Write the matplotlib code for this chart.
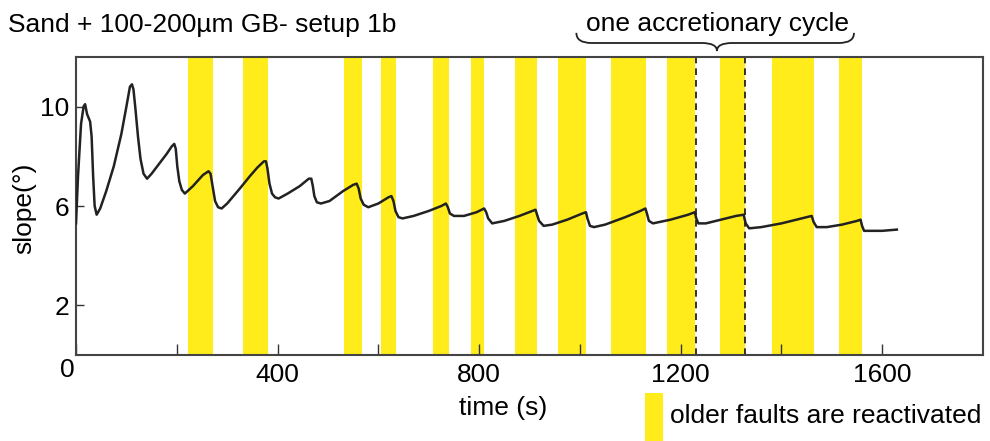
import numpy as np
import matplotlib.pyplot as plt
from matplotlib.path import Path
from matplotlib.patches import PathPatch, Rectangle
import matplotlib.transforms as mtransforms

plt.rcParams['font.family'] = ['Liberation Sans', 'DejaVu Sans']

# slope curve
time_s = [0, 4, 10, 15, 18, 22, 28, 31, 34, 37, 41, 48, 60, 75, 90, 100, 107, 111, 114,
          118, 123, 128, 134, 141, 150, 165, 180, 190, 195, 198, 201, 205, 210, 216, 232,
          252, 263, 267, 271, 276, 282, 289, 300, 325, 345, 360, 373, 377, 380, 384, 389,
          395, 402, 420, 444, 462, 467, 470, 473, 478, 486, 503, 530, 550, 557, 561, 565,
          571, 580, 600, 620, 626, 630, 634, 640, 648, 670, 700, 725, 734, 738, 742, 750,
          770, 795, 810, 814, 818, 826, 850, 880, 906, 912, 915, 919, 928, 945, 975, 1005,
          1012, 1015, 1020, 1028, 1050, 1090, 1120, 1130, 1133, 1137, 1145, 1180, 1215,
          1228, 1231, 1235, 1250, 1280, 1310, 1325, 1329, 1336, 1360, 1400, 1440, 1460,
          1464, 1470, 1490, 1520, 1550, 1557, 1560, 1564, 1600, 1629]
slope = [5.3, 7.2, 9.3, 10.0, 10.1, 9.7, 9.4, 8.8, 7.2, 6.0, 5.65, 5.9, 6.6, 7.6, 8.9,
         10.0, 10.8, 10.9, 10.7, 9.9, 8.8, 7.9, 7.3, 7.1, 7.3, 7.7, 8.1, 8.4, 8.5, 8.3, 7.6,
         7.0, 6.65, 6.5, 6.8, 7.25, 7.4, 7.3, 6.8, 6.2, 5.95, 5.9, 6.1, 6.7, 7.2, 7.55, 7.8,
         7.8, 7.5, 6.9, 6.5, 6.35, 6.3, 6.5, 6.8, 7.1, 7.1, 6.8, 6.4, 6.15, 6.1, 6.2, 6.6,
         6.85, 6.9, 6.7, 6.3, 6.05, 5.95, 6.1, 6.35, 6.4, 6.2, 5.8, 5.55, 5.5, 5.6, 5.8,
         6.0, 6.1, 5.95, 5.7, 5.6, 5.6, 5.75, 5.9, 5.75, 5.5, 5.3, 5.4, 5.6, 5.8, 5.85,
         5.65, 5.4, 5.2, 5.25, 5.45, 5.7, 5.75, 5.5, 5.2, 5.15, 5.25, 5.55, 5.8, 5.9, 5.7,
         5.4, 5.3, 5.45, 5.65, 5.75, 5.5, 5.3, 5.3, 5.45, 5.6, 5.65, 5.3, 5.1, 5.15, 5.3,
         5.5, 5.6, 5.35, 5.15, 5.15, 5.25, 5.4, 5.45, 5.2, 5.0, 5.0, 5.05]

# periods where older faults are reactivated (start, end)
band_start = [222, 331, 531, 605, 708, 783, 872, 957, 1062, 1173, 1278, 1382, 1514]
band_end = [272, 381, 567, 636, 741, 809, 914, 1013, 1132, 1229, 1328, 1465, 1560]

cycle_lines = [1231, 1328]
brace_left, brace_mid, brace_right = 993, 1272, 1544

fig = plt.figure(figsize=(9.9, 4.41), dpi=100)
ax = fig.add_axes([76/990, 1-355/441, (983-76)/990, (355-57)/441])

for s, e in zip(band_start, band_end):
    ax.axvspan(s, e, color='#FFEC1A', lw=0, zorder=1)

for x in cycle_lines:
    ax.axvline(x, color='#111111', lw=1.2, ls=(0, (4, 3)), zorder=2)

ax.plot(time_s, slope, color='#222222', lw=1.8, zorder=3)

ax.set_xlim(0, 1800)
ax.set_ylim(0, 12)
ax.set_xticks([0, 400, 800, 1200, 1600])
ax.set_xticks([200, 600, 1000, 1400], minor=True)
ax.set_yticks([2, 6, 10])
ax.tick_params(axis='x', which='both', direction='in', length=8, width=1.0,
               color='#333333', labelsize=19, pad=6)
ax.tick_params(axis='y', direction='in', length=6, width=1.0, color='#333333',
               labelsize=19, pad=5)
for sp in ax.spines.values():
    sp.set_linewidth(1.5)
    sp.set_color('#444444')

# the "0" sits a little left of and above the other labels
zero = ax.get_xticklabels()[0]
zero.set_transform(zero.get_transform() +
                   mtransforms.ScaledTranslation(-0.09, 0.05, fig.dpi_scale_trans))

# curly brace above the axes
trans = mtransforms.blended_transform_factory(ax.transData, ax.transAxes)
yt, ym, yb, w = 1.081, 1.047, 1.020, 30
verts = [(brace_left, yt), (brace_left, ym), (brace_left + w, ym),
         (brace_mid - w, ym),
         (brace_mid, ym), (brace_mid, yb),
         (brace_mid, ym), (brace_mid + w, ym),
         (brace_right - w, ym),
         (brace_right, ym), (brace_right, yt)]
codes = [Path.MOVETO, Path.CURVE3, Path.CURVE3, Path.LINETO, Path.CURVE3, Path.CURVE3,
         Path.CURVE3, Path.CURVE3, Path.LINETO, Path.CURVE3, Path.CURVE3]
ax.add_patch(PathPatch(Path(verts, codes), transform=trans, fill=False,
                       lw=1.3, color='#222222', clip_on=False))

fig.text(8/990, 1-32/441, 'Sand + 100-200µm GB- setup 1b', fontsize=19, va='baseline')
fig.text(718/990, 1-31/441, 'one accretionary cycle', fontsize=19, ha='center', va='baseline')
fig.text(503/990, 1-415/441, 'time (s)', fontsize=19, ha='center', va='baseline')
fig.text(24/990, 1-208/441, 'slope(°)', fontsize=19, ha='center', va='center', rotation=90)

fig.patches.append(Rectangle((645/990, 0), 18/990, 48/441, transform=fig.transFigure,
                             color='#FFEC1A', lw=0))
fig.text(670/990, 1-423/441, 'older faults are reactivated', fontsize=19, va='baseline')

fig.savefig('out.png', dpi=100)
